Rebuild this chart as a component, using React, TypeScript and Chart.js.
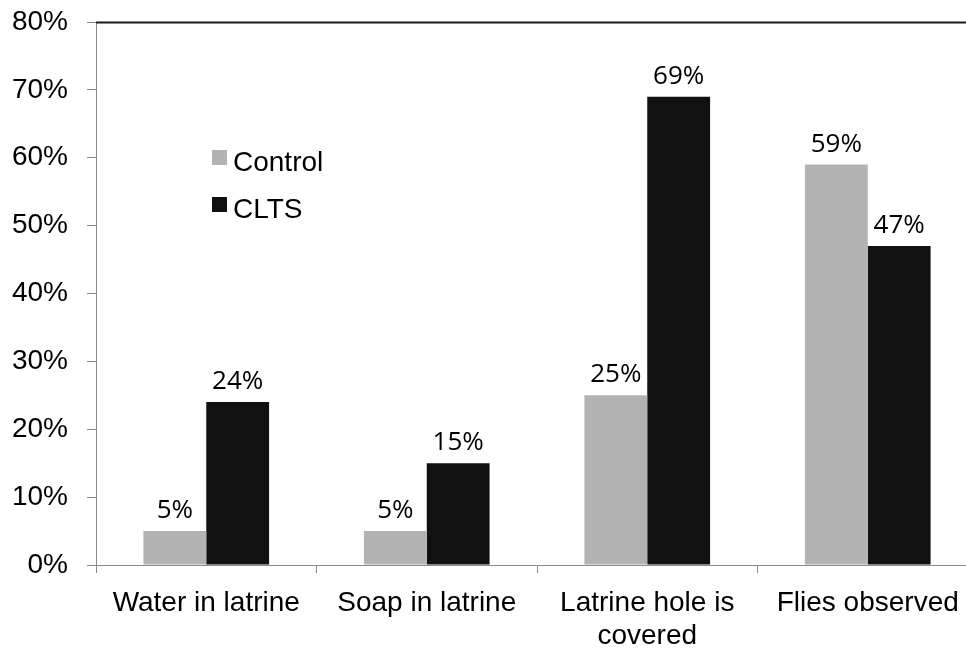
import React, { useEffect, useRef } from "react";
import { Chart, registerables } from "chart.js";

Chart.register(...registerables);

const categories: (string | string[])[] = [
  "Water in latrine",
  "Soap in latrine",
  ["Latrine hole is", "covered"],
  "Flies observed",
];
const controlValues = [5, 5, 25, 59];
const cltsValues = [24, 15, 69, 47];
const seriesNames = ["Control", "CLTS"];
const seriesColors = ["#b3b3b3", "#111111"];
const yTicks = [0, 10, 20, 30, 40, 50, 60, 70, 80];

const ARIAL = "'Liberation Sans', Arial, sans-serif";

const decorPlugin = {
  id: "decor",
  afterDatasetsDraw(chart: any) {
    const ctx = chart.ctx;
    const { left, top, right } = chart.chartArea;
    ctx.save();
    // top border line
    ctx.strokeStyle = "#1a1a1a";
    ctx.lineWidth = 2;
    ctx.beginPath();
    ctx.moveTo(left, top + 0.5);
    ctx.lineTo(right + 20, top + 0.5);
    ctx.stroke();

    // data labels
    ctx.fillStyle = "#000";
    ctx.font = "26px 'Open Sans', sans-serif";
    ctx.textAlign = "center";
    ctx.textBaseline = "alphabetic";
    chart.data.datasets.forEach((ds: any, i: number) => {
      const meta = chart.getDatasetMeta(i);
      meta.data.forEach((bar: any, j: number) => {
        ctx.fillText(ds.data[j] + "%", bar.x, bar.y - 13);
      });
    });

    // legend
    ctx.font = `28px ${ARIAL}`;
    ctx.textAlign = "left";
    chart.data.datasets.forEach((ds: any, i: number) => {
      const sx = left + 116;
      const sy = top + 128 + i * 47;
      ctx.fillStyle = ds.backgroundColor;
      ctx.fillRect(sx, sy, 15, 15);
      ctx.fillStyle = "#000";
      ctx.fillText(ds.label, sx + 21, sy + 20.5);
    });
    ctx.restore();
  },
};

export default function App() {
  const ref = useRef<HTMLCanvasElement>(null);
  useEffect(() => {
    if (!ref.current) return;
    const chart = new Chart(ref.current, {
      type: "bar",
      data: {
        labels: categories as any,
        datasets: [
          {
            label: seriesNames[0],
            data: controlValues,
            backgroundColor: seriesColors[0],
            categoryPercentage: 0.57,
            barPercentage: 1,
          },
          {
            label: seriesNames[1],
            data: cltsValues,
            backgroundColor: seriesColors[1],
            categoryPercentage: 0.57,
            barPercentage: 1,
          },
        ],
      },
      options: {
        responsive: false,
        animation: false,
        devicePixelRatio: 1,
        layout: { padding: { top: 22, right: 2, left: 0, bottom: 0 } },
        plugins: {
          legend: { display: false },
          tooltip: { enabled: false },
        },
        scales: {
          x: {
            offset: true,
            grid: {
              display: true,
              offset: true,
              drawOnChartArea: false,
              drawTicks: true,
              tickLength: 8,
              color: "#898989",
            },
            border: { display: true, color: "#898989", width: 1 },
            ticks: {
              color: "#000",
              font: { family: ARIAL, size: 28 },
              padding: 13,
              maxRotation: 0,
              autoSkip: false,
            },
            afterFit: (s: any) => {
              s.height = 87;
              s.paddingLeft = 0;
              s.paddingRight = 0;
            },
          },
          y: {
            min: 0,
            max: 80,
            afterBuildTicks: (s: any) => {
              s.ticks = yTicks.map((v) => ({ value: v }));
            },
            grid: {
              display: true,
              drawOnChartArea: false,
              drawTicks: true,
              tickLength: 9,
              color: "#898989",
            },
            border: { display: true, color: "#898989", width: 1 },
            ticks: {
              color: "#000",
              font: { family: ARIAL, size: 28 },
              padding: 19,
              callback: (v: any) => v + "%",
            },
            afterFit: (s: any) => {
              s.width = 96;
              s.paddingTop = 0;
              s.paddingBottom = 0;
            },
          },
        },
      },
      plugins: [decorPlugin],
    });
    return () => chart.destroy();
  }, []);

  return (
    <div
      style={{
        position: "fixed",
        left: 0,
        top: 0,
        width: 966,
        height: 652,
        overflow: "hidden",
        background: "#fff",
      }}
    >
      <canvas ref={ref} width={980} height={652} style={{ width: 980, height: 652, display: "block" }} />
    </div>
  );
}
